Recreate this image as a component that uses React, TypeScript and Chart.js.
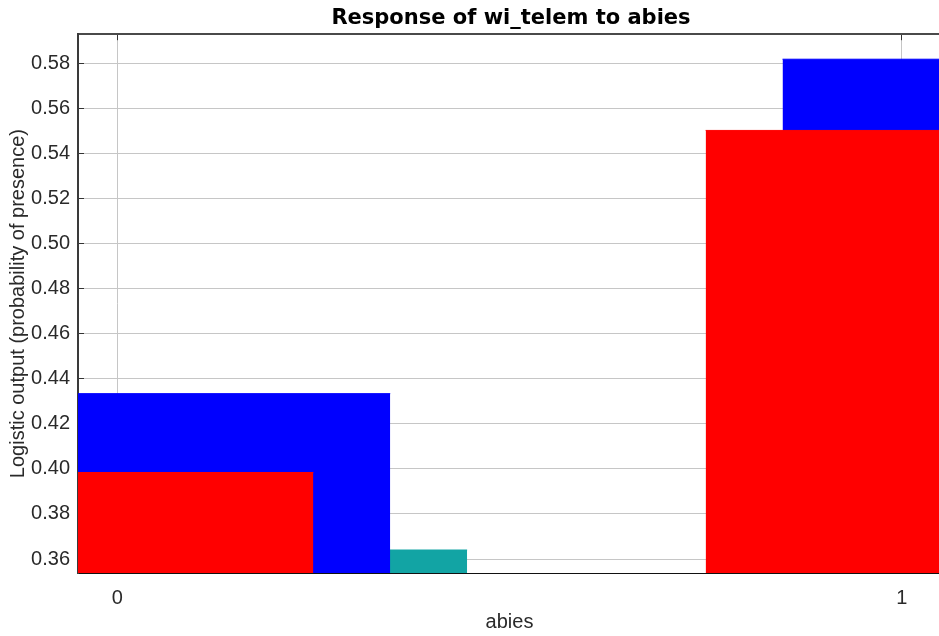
import React, { useEffect, useRef } from 'react';
import { Chart, registerables } from 'chart.js';

Chart.register(...registerables);

// ---- data ----
const categories = [0, 1];
const seriesLabels = ['Mean response', 'Mean + one std dev', 'Mean - one std dev'];
const meanValues = [0.3984, 0.5502];
const upperValues = [0.4334, 0.5818];
const lowerValues = [0.364, 0.5186];
const seriesColors = ['#ff0000', '#0000ff', '#12a4a4'];
const seriesOffsets = [0, 0.098, 0.196];
const barWidth = 0.5;
const xTickValues = [0, 1];
const yTickValues = [0.36, 0.38, 0.4, 0.42, 0.44, 0.46, 0.48, 0.5, 0.52, 0.54, 0.56, 0.58];
const xRange = [-0.05, 1.05];
const yRange = [0.3538, 0.5929];

const chartTitle = 'Response of wi_telem to abies';
const xTitle = 'abies';
const yTitle = 'Logistic output (probability of presence)';

function barSteps(values: number[], offset: number) {
  const pts: { x: number; y: number | null }[] = [];
  let prevEnd = 0;
  categories.forEach((c, i) => {
    const center = c + offset;
    const start = center - barWidth / 2;
    const end = center + barWidth / 2;
    if (i > 0) pts.push({ x: (prevEnd + start) / 2, y: null });
    pts.push({ x: start, y: values[i] }, { x: end, y: values[i] });
    prevEnd = end;
  });
  return pts;
}

const labelFont = { family: 'Liberation Sans, Arial, sans-serif', size: 20 };

export default function App() {
  const ref = useRef<HTMLCanvasElement | null>(null);

  useEffect(() => {
    if (!ref.current) return;
    const seriesValues = [meanValues, upperValues, lowerValues];
    const chart = new Chart(ref.current, {
      type: 'line',
      data: {
        datasets: seriesValues.map((vals, s) => ({
          label: seriesLabels[s],
          data: barSteps(vals, seriesOffsets[s]),
          borderColor: seriesColors[s],
          backgroundColor: seriesColors[s],
          borderWidth: 1,
          pointRadius: 0,
          pointHoverRadius: 0,
          tension: 0,
          spanGaps: false,
          fill: 'start',
        })),
      },
      options: {
        animation: false,
        responsive: true,
        maintainAspectRatio: false,
        events: [],
        layout: { padding: 0 },
        plugins: {
          legend: { display: false },
          tooltip: { enabled: false },
          title: {
            display: true,
            text: chartTitle,
            color: '#000',
            font: { family: 'DejaVu Sans', size: 21, weight: 'bold' },
            padding: { top: 6, bottom: 3 },
          },
        },
        scales: {
          x: {
            type: 'linear',
            position: 'bottom',
            min: xRange[0],
            max: xRange[1],
            afterBuildTicks: (s: any) => {
              s.ticks = xTickValues.map((v) => ({ value: v }));
            },
            afterFit: (s: any) => {
              s.height = 63;
            },
            grid: { color: '#c6c6c6', lineWidth: 1, drawTicks: false },
            border: { color: '#111', width: 1 },
            ticks: {
              padding: 13,
              maxRotation: 0,
              font: labelFont,
              color: '#2a2a2a',
              callback: (v: any) => String(v),
            },
            title: {
              display: true,
              text: xTitle,
              color: '#2a2a2a',
              font: labelFont,
              padding: { top: 0, bottom: 2 },
            },
          },
          x2: {
            type: 'linear',
            position: 'top',
            min: xRange[0],
            max: xRange[1],
            afterBuildTicks: (s: any) => {
              s.ticks = xTickValues.map((v) => ({ value: v }));
            },
            afterFit: (s: any) => {
              s.height = 0;
            },
            ticks: { display: false },
            grid: { drawOnChartArea: false, drawTicks: true, tickLength: -6, tickColor: '#333' },
            border: { color: '#4a4a4a', width: 2 },
          },
          y: {
            type: 'linear',
            position: 'left',
            min: yRange[0],
            max: yRange[1],
            afterBuildTicks: (s: any) => {
              s.ticks = yTickValues.map((v) => ({ value: v }));
            },
            afterFit: (s: any) => {
              s.width = 78;
            },
            grid: { color: '#c6c6c6', lineWidth: 1, drawTicks: true, tickLength: -6, tickColor: '#333' },
            border: { color: '#3a3a3a', width: 2 },
            ticks: {
              padding: 14,
              font: labelFont,
              color: '#2a2a2a',
              callback: (v: any) => Number(v).toFixed(2),
            },
            title: {
              display: true,
              text: yTitle,
              color: '#2a2a2a',
              font: labelFont,
              padding: { top: 6, bottom: 0 },
            },
          },
          yRightSpace: {
            type: 'linear',
            position: 'right',
            min: yRange[0],
            max: yRange[1],
            afterFit: (s: any) => {
              s.width = 81;
            },
            ticks: { display: false },
            grid: { display: false, drawOnChartArea: false, drawTicks: false },
            border: { display: false },
          },
        },
      } as any,
    });
    return () => chart.destroy();
  }, []);

  return (
    <div style={{ position: 'fixed', left: 0, top: 0, width: 939, height: 636, overflow: 'hidden', background: '#fff' }}>
      <div style={{ position: 'relative', width: 1022, height: 636 }}>
        <canvas ref={ref} />
      </div>
    </div>
  );
}
